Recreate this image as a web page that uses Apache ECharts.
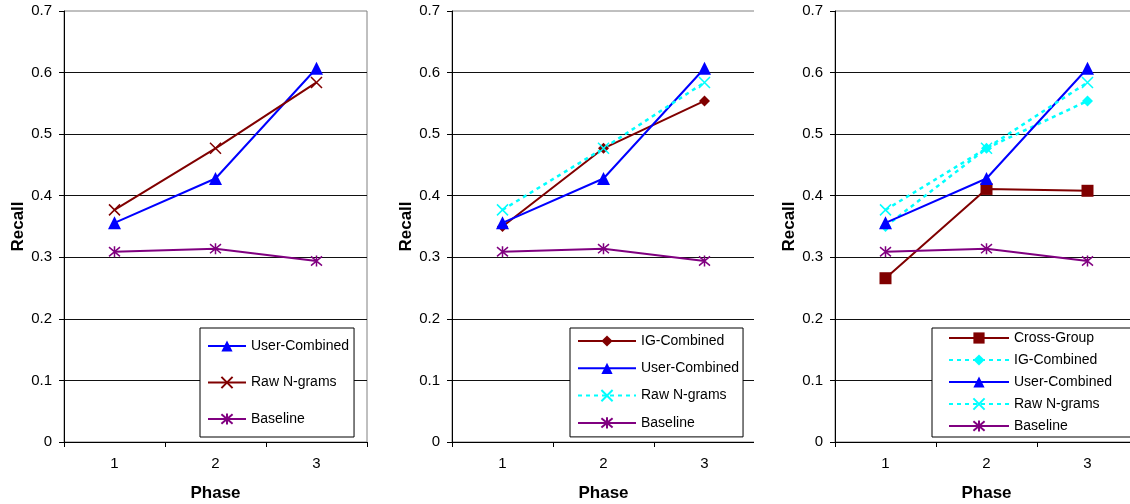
<!DOCTYPE html>
<html><head><meta charset="utf-8">
<script src="https://cdn.jsdelivr.net/npm/echarts@6/dist/echarts.min.js"></script>
<style>
html,body{margin:0;padding:0;background:#fff;overflow:hidden;width:1130px;height:504px;position:relative;}
.p{position:absolute;top:0;height:504px;}
</style></head>
<body>
<div id="c1" class="p" style="left:0;width:377px"></div>
<div id="c2" class="p" style="left:377px;width:377px"></div>
<div id="c3" class="p" style="left:754px;width:400px"></div>
<script>
// ---- data ----
const phases = ['1', '2', '3'];
const userCombined = [0.356, 0.428, 0.607];
const rawNgrams = [0.377, 0.477, 0.584];
const baseline = [0.309, 0.314, 0.294];
const igCombined = [0.350, 0.477, 0.554];
const crossGroup = [0.266, 0.411, 0.408];
const yMin = 0, yMax = 0.7, yStep = 0.1;

const FONT = 'Liberation Sans, Arial, sans-serif';
const DARKRED = '#800000', BLUE = '#0000FF', CYAN = '#00FFFF', PURPLE = '#800080';
const XPATH = 'path://M0,0L10,10M10,0L0,10';
const STAR = 'path://M0,0L10,10M10,0L0,10M5,-1L5,11';

function sUser() {
  return {name: 'User-Combined', type: 'line', data: userCombined, symbol: 'triangle', symbolSize: 13,
    lineStyle: {color: BLUE, width: 2}, itemStyle: {color: BLUE}};
}
function sRawSolid() {
  return {name: 'Raw N-grams', type: 'line', data: rawNgrams, symbol: XPATH, symbolSize: 11,
    lineStyle: {color: DARKRED, width: 2}, itemStyle: {color: DARKRED, borderColor: DARKRED, borderWidth: 1.5}};
}
function sRawDot() {
  return {name: 'Raw N-grams', type: 'line', data: rawNgrams, symbol: XPATH, symbolSize: 11,
    lineStyle: {color: CYAN, width: 2.5, type: [4, 4]}, itemStyle: {color: CYAN, borderColor: CYAN, borderWidth: 1.5}};
}
function sBase() {
  return {name: 'Baseline', type: 'line', data: baseline, symbol: STAR, symbolSize: 11,
    lineStyle: {color: PURPLE, width: 2}, itemStyle: {color: PURPLE, borderColor: PURPLE, borderWidth: 1.5}};
}
function sIGSolid() {
  return {name: 'IG-Combined', type: 'line', data: igCombined, symbol: 'diamond', symbolSize: 11,
    lineStyle: {color: DARKRED, width: 2}, itemStyle: {color: DARKRED}};
}
function sIGDot() {
  return {name: 'IG-Combined', type: 'line', data: igCombined, symbol: 'diamond', symbolSize: 11,
    lineStyle: {color: CYAN, width: 2.5, type: [4, 4]}, itemStyle: {color: CYAN}};
}
function sCross() {
  return {name: 'Cross-Group', type: 'line', data: crossGroup, symbol: 'rect', symbolSize: 12,
    lineStyle: {color: DARKRED, width: 2}, itemStyle: {color: DARKRED}};
}

function makeOption(gridLeft, series, legend) {
  return {
    animation: false,
    backgroundColor: '#fff',
    grid: {left: gridLeft, top: 11, width: 303, height: 431, show: true, borderColor: '#808080', borderWidth: 1,
      backgroundColor: 'transparent', containLabel: false, outerBoundsMode: 'none'},
    xAxis: {
      type: 'category', data: phases, boundaryGap: true,
      name: 'Phase', nameLocation: 'middle', nameGap: 43, nameMoveOverlap: false,
      nameTextStyle: {fontFamily: FONT, fontSize: 17, fontWeight: 'bold', color: '#000'},
      axisLine: {lineStyle: {color: '#000', width: 1}},
      axisTick: {show: true, length: 5, lineStyle: {color: '#000'}},
      axisLabel: {fontFamily: FONT, fontSize: 15, color: '#000', margin: 14},
      splitLine: {show: false}
    },
    yAxis: {
      type: 'value', min: yMin, max: yMax, interval: yStep,
      name: 'Recall', nameLocation: 'middle', nameGap: 37, nameRotate: 90, nameMoveOverlap: false,
      nameTextStyle: {fontFamily: FONT, fontSize: 17, fontWeight: 'bold', color: '#000'},
      axisLine: {show: true, lineStyle: {color: '#000', width: 1}},
      axisTick: {show: true, length: 5, lineStyle: {color: '#000'}},
      axisLabel: {fontFamily: FONT, fontSize: 15, color: '#000', margin: 12},
      splitLine: {show: true, showMinLine: false, showMaxLine: false, lineStyle: {color: '#111', width: 1}}
    },
    legend: Object.assign({
      orient: 'vertical', backgroundColor: '#fff', borderColor: '#000', borderWidth: 1,
      itemHeight: 14, textStyle: {fontFamily: FONT, fontSize: 14, color: '#000'},
      selectedMode: false
    }, legend),
    series: series
  };
}

const c1 = echarts.init(document.getElementById('c1'));
c1.setOption(makeOption(64, [sUser(), sRawSolid(), sBase()], {
  data: ['User-Combined', 'Raw N-grams', 'Baseline'],
  left: 200, top: 328, itemWidth: 38, itemGap: 22.5, padding: [11, 5, 11, 7]
}));
const c2 = echarts.init(document.getElementById('c2'));
c2.setOption(makeOption(75, [sIGSolid(), sUser(), sRawDot(), sBase()], {
  data: ['IG-Combined', 'User-Combined', 'Raw N-grams', 'Baseline'],
  left: 193, top: 328, itemWidth: 58, itemGap: 13.3, padding: [6, 4, 7, 7]
}));
const c3 = echarts.init(document.getElementById('c3'));
c3.setOption(makeOption(81, [sCross(), sIGDot(), sUser(), sRawDot(), sBase()], {
  data: ['Cross-Group', 'IG-Combined', 'User-Combined', 'Raw N-grams', 'Baseline'],
  left: 178, top: 328, itemWidth: 60, itemGap: 8, padding: [3, 20, 4, 16]
}));
</script>
</body></html>
